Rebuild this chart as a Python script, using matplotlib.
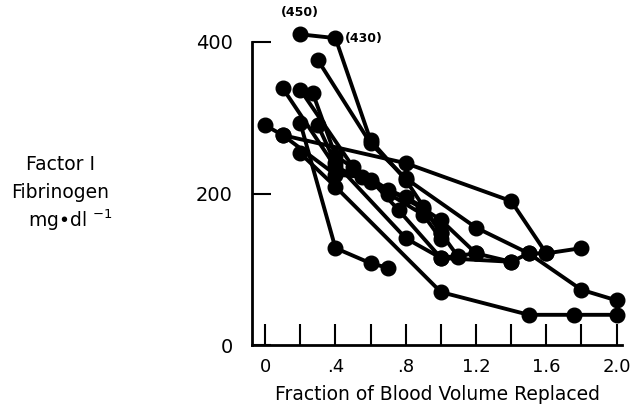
import matplotlib
matplotlib.use("Agg")
import matplotlib.pyplot as plt

plt.rcParams['font.family'] = ['DejaVu Sans']

# fraction of blood volume replaced / fibrinogen (mg/dl), one list per patient
# (the two off-scale points 450 and 430 are drawn at the top edge)
x1 = [0.2, 0.4, 0.6, 0.8, 1.0, 1.1]
y1 = [410, 405, 270, 218, 148, 116]
x2 = [0.3, 0.6, 0.8, 1.2, 1.5, 1.8, 2.0]
y2 = [376, 266, 220, 155, 121, 73, 59]
x3 = [0.0, 0.1, 0.8, 1.4, 1.6, 1.8]
y3 = [290, 277, 240, 190, 121, 128]
x4 = [0.1, 0.4, 0.6, 0.8, 0.9, 1.0]
y4 = [339, 235, 215, 195, 182, 148]
x5 = [0.2, 0.5, 0.7, 0.9, 1.0, 1.2, 1.4]
y5 = [337, 235, 205, 180, 165, 121, 110]
x6 = [0.27, 0.4, 0.6, 0.76, 1.0, 1.1, 1.2]
y6 = [333, 250, 218, 178, 115, 118, 121]
x7 = [0.2, 0.4, 0.6, 0.7]
y7 = [293, 128, 108, 102]
x8 = [0.2, 0.4, 1.0, 1.5, 1.76, 2.0]
y8 = [253, 209, 70, 40, 40, 40]
x9 = [0.3, 0.4, 0.8, 1.0, 1.4, 1.5, 1.6]
y9 = [290, 240, 141, 115, 110, 121, 121]
x10 = [0.1, 0.4, 0.55, 0.7, 0.9, 1.0]
y10 = [277, 225, 222, 200, 172, 140]

series = [(x1, y1), (x2, y2), (x3, y3), (x4, y4), (x5, y5),
          (x6, y6), (x7, y7), (x8, y8), (x9, y9), (x10, y10)]

xticks = [0, 0.2, 0.4, 0.6, 0.8, 1.0, 1.2, 1.4, 1.6, 1.8, 2.0]
xticklabels = ['0', '', '.4', '', '.8', '', '1.2', '', '1.6', '', '2.0']
yticks = [0, 200, 400]

fig = plt.figure(figsize=(6.32, 4.07), dpi=100)
ax = fig.add_axes([0.399, 0.152, 0.585, 0.745])

for xs, ys in series:
    ax.plot(xs, ys, color='black', lw=2.8, marker='o', ms=10.5, clip_on=False)

ax.set_xlim(-0.074, 2.03)
ax.set_ylim(0, 400)
ax.spines['top'].set_visible(False)
ax.spines['right'].set_visible(False)
ax.spines['left'].set_linewidth(2)
ax.spines['bottom'].set_linewidth(2)
ax.spines['left'].set_bounds(0, 400)

ax.set_xticks(xticks)
ax.set_xticklabels(xticklabels, fontsize=13)
ax.set_yticks(yticks)
ax.set_yticklabels([str(v) for v in yticks], fontsize=14)
ax.tick_params(axis='x', direction='in', length=15, width=1.5, pad=9)
ax.tick_params(axis='y', direction='in', length=14, width=1.5, pad=14)

ax.set_xlabel('Fraction of Blood Volume Replaced', fontsize=13.5, labelpad=7)

ax.annotate('(450)', (0.2, 410), xytext=(0, 11), textcoords='offset points',
            ha='center', va='bottom', fontsize=9, fontweight='bold',
            annotation_clip=False)
ax.annotate('(430)', (0.4, 405), xytext=(7, 0), textcoords='offset points',
            ha='left', va='center', fontsize=9, fontweight='bold',
            annotation_clip=False)

fig.text(0.095, 0.595, 'Factor I', ha='center', va='center', fontsize=13.5)
fig.text(0.095, 0.526, 'Fibrinogen', ha='center', va='center', fontsize=13.5)
fig.text(0.112, 0.459, 'mg\u2022dl $^{-1}$', ha='center', va='center', fontsize=13.5)

fig.savefig('out.png', dpi=100)
